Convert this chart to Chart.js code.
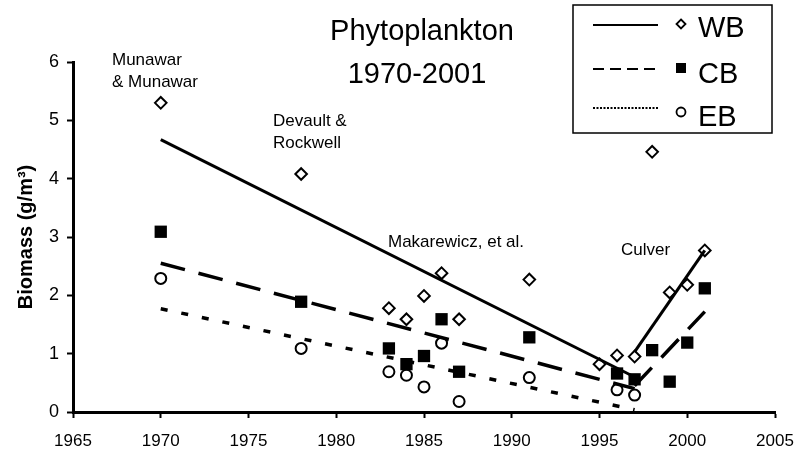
<!DOCTYPE html>
<html>
<head>
<meta charset="utf-8">
<script src="https://cdn.jsdelivr.net/npm/chart.js@4.4.1/dist/chart.umd.min.js"></script>
<style>
  html, body { margin: 0; padding: 0; background: #fff; }
  #wrap { width: 795px; height: 455px; }
</style>
</head>
<body>
<div id="wrap"><canvas id="chart" width="795" height="455"></canvas></div>
<script>
const FONT = '"Liberation Sans", Arial, Helvetica, sans-serif';

// WB (west basin) - diamonds
const wbYears = [1970, 1978, 1983, 1984, 1985, 1986, 1987, 1991, 1995, 1996, 1997, 1998, 1999, 2000, 2001];
const wbValues = [5.30, 4.08, 1.78, 1.59, 1.99, 2.38, 1.59, 2.27, 0.82, 0.97, 0.95, 4.46, 2.05, 2.18, 2.77];

// CB (central basin) - filled squares
const cbYears = [1970, 1978, 1983, 1984, 1985, 1986, 1987, 1991, 1996, 1997, 1998, 1999, 2000, 2001];
const cbValues = [3.09, 1.89, 1.09, 0.82, 0.96, 1.59, 0.69, 1.28, 0.66, 0.56, 1.06, 0.52, 1.19, 2.12];

// EB (east basin) - open circles
const ebYears = [1970, 1978, 1983, 1984, 1985, 1986, 1987, 1991, 1996, 1997];
const ebValues = [2.29, 1.09, 0.69, 0.63, 0.43, 1.18, 0.18, 0.59, 0.38, 0.29];

// trend lines, end points
const wbTrendYears = [1970, 1997];
const wbTrendValues = [4.67, 0.60];
const wbLateYears = [1997, 2001];
const wbLateValues = [1.03, 2.77];
const cbTrendYears = [1970, 1997];
const cbTrendValues = [2.55, 0.40];
const cbLateYears = [1997, 2001];
const cbLateValues = [0.45, 1.72];
const ebTrendYears = [1970, 1997];
const ebTrendValues = [1.77, 0.04];

const xTicks = [1965, 1970, 1975, 1980, 1985, 1990, 1995, 2000, 2005];
const yTicks = [0, 1, 2, 3, 4, 5, 6];

const toPoints = (xs, ys) => xs.map((x, i) => ({ x, y: ys[i] }));

const trend = (xs, ys, dash, width) => ({
  data: toPoints(xs, ys),
  showLine: true,
  borderColor: '#000',
  borderWidth: width,
  borderDash: dash,
  borderCapStyle: 'butt',
  pointRadius: 0,
  fill: false,
});

const SOLID = [];
const DASHED = [25, 14];
const DOTTED = [7, 14];

// title, study labels and the boxed legend
const extras = {
  id: 'extras',
  afterDraw(chart) {
    const ctx = chart.ctx;
    ctx.save();
    ctx.fillStyle = '#000';
    ctx.textBaseline = 'alphabetic';

    ctx.font = `29px ${FONT}`;
    ctx.textAlign = 'center';
    ctx.fillText('Phytoplankton', 422, 40);
    ctx.fillText('1970-2001', 417, 83);

    ctx.font = `17px ${FONT}`;
    ctx.textAlign = 'left';
    ctx.fillText('Munawar', 112, 65);
    ctx.fillText('& Munawar', 112, 87);
    ctx.fillText('Devault &', 273, 126);
    ctx.fillText('Rockwell', 273, 148);
    ctx.fillText('Makarewicz, et al.', 388, 247);
    ctx.fillText('Culver', 621, 255);

    // legend box
    ctx.lineWidth = 1.5;
    ctx.strokeStyle = '#000';
    ctx.strokeRect(573, 5, 199, 128);

    const rows = [
      { label: 'WB', lineY: 25, markY: 24, textY: 37, dash: [], style: 'diamond' },
      { label: 'CB', lineY: 69, markY: 68, textY: 83, dash: [11, 6], style: 'square' },
      { label: 'EB', lineY: 108, markY: 112, textY: 126, dash: [2, 1.5], style: 'circle' },
    ];
    ctx.font = `29px ${FONT}`;
    rows.forEach((r) => {
      ctx.beginPath();
      ctx.setLineDash(r.dash);
      ctx.lineWidth = 2;
      ctx.moveTo(593, r.lineY);
      ctx.lineTo(658, r.lineY);
      ctx.stroke();
      ctx.setLineDash([]);

      const mx = 681;
      const my = r.markY;
      ctx.beginPath();
      if (r.style === 'diamond') {
        ctx.moveTo(mx, my - 4.5);
        ctx.lineTo(mx + 4.5, my);
        ctx.lineTo(mx, my + 4.5);
        ctx.lineTo(mx - 4.5, my);
        ctx.closePath();
        ctx.fillStyle = '#fff';
        ctx.fill();
        ctx.lineWidth = 1.8;
        ctx.stroke();
      } else if (r.style === 'square') {
        ctx.rect(mx - 5, my - 5, 10, 10);
        ctx.fillStyle = '#000';
        ctx.fill();
      } else {
        ctx.arc(mx, my, 4.5, 0, Math.PI * 2);
        ctx.fillStyle = '#fff';
        ctx.fill();
        ctx.lineWidth = 1.8;
        ctx.stroke();
      }
      ctx.fillStyle = '#000';
      ctx.fillText(r.label, 698, r.textY);
    });
    ctx.restore();
  },
};

const axisGrid = {
  drawOnChartArea: false,
  drawTicks: true,
  tickLength: 6,
  tickWidth: 2,
  tickColor: '#000',
};
const axisBorder = { display: true, color: '#000', width: 3 };

new Chart(document.getElementById('chart').getContext('2d'), {
  type: 'scatter',
  data: {
    datasets: [
      trend(wbTrendYears, wbTrendValues, SOLID, 3),
      trend(wbLateYears, wbLateValues, SOLID, 3),
      trend(cbTrendYears, cbTrendValues, DASHED, 3.5),
      trend(cbLateYears, cbLateValues, DASHED, 3.5),
      trend(ebTrendYears, ebTrendValues, DOTTED, 3.5),
      {
        label: 'WB',
        data: toPoints(wbYears, wbValues),
        pointStyle: 'rectRot',
        pointRadius: 5.8,
        backgroundColor: '#fff',
        borderColor: '#000',
        borderWidth: 2,
      },
      {
        label: 'CB',
        data: toPoints(cbYears, cbValues),
        pointStyle: 'rect',
        pointRadius: 8.7,
        backgroundColor: '#000',
        borderColor: '#000',
        borderWidth: 0,
      },
      {
        label: 'EB',
        data: toPoints(ebYears, ebValues),
        pointStyle: 'circle',
        pointRadius: 5.5,
        backgroundColor: '#fff',
        borderColor: '#000',
        borderWidth: 2,
      },
    ],
  },
  options: {
    responsive: false,
    animation: false,
    layout: { padding: { top: 62, right: 20, bottom: 0, left: 0 } },
    plugins: {
      legend: { display: false },
      tooltip: { enabled: false },
    },
    scales: {
      x: {
        type: 'linear',
        min: xTicks[0],
        max: xTicks[xTicks.length - 1],
        afterBuildTicks: (scale) => { scale.ticks = xTicks.map((v) => ({ value: v })); },
        afterFit: (scale) => {
          scale.height = 43;
          scale.paddingLeft = 0;
          scale.paddingRight = 0;
        },
        ticks: {
          color: '#000',
          font: { family: FONT, size: 17 },
          padding: 13,
          maxRotation: 0,
          callback: (v) => String(v),
        },
        grid: axisGrid,
        border: axisBorder,
      },
      y: {
        min: yTicks[0],
        max: yTicks[yTicks.length - 1],
        afterBuildTicks: (scale) => { scale.ticks = yTicks.map((v) => ({ value: v })); },
        afterFit: (scale) => {
          scale.width = 73;
          scale.paddingTop = 0;
          scale.paddingBottom = 0;
        },
        ticks: {
          color: '#000',
          font: { family: FONT, size: 18 },
          padding: 8,
          callback: (v) => String(v),
        },
        grid: axisGrid,
        border: axisBorder,
        title: {
          display: true,
          text: 'Biomass (g/m³)',
          color: '#000',
          font: { family: FONT, size: 20, weight: 'bold' },
          padding: { top: 14, bottom: 0 },
        },
      },
    },
  },
  plugins: [extras],
});
</script>
</body>
</html>
